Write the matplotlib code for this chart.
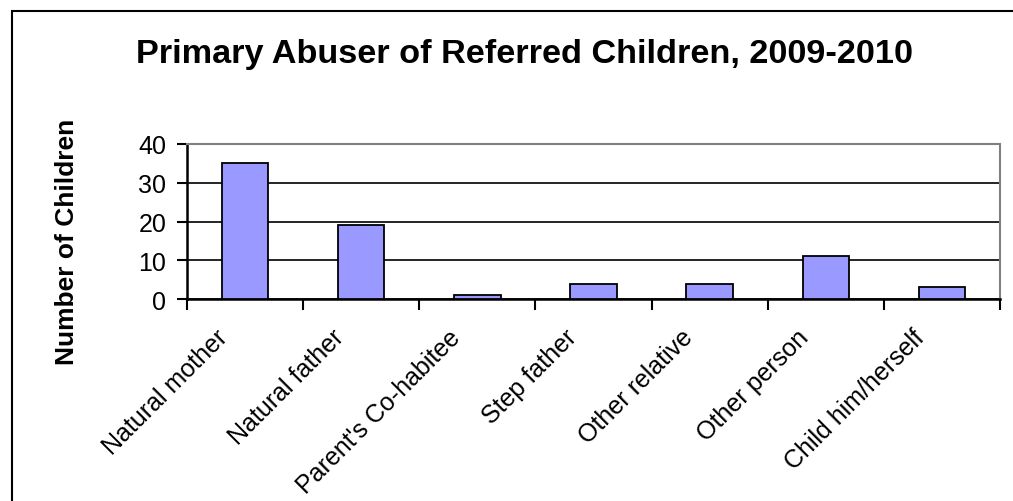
import matplotlib.pyplot as plt
import numpy as np

plt.rcParams['font.family'] = ['Liberation Sans', 'DejaVu Sans']

categories = ['Natural mother', 'Natural father', "Parent's Co-habitee",
              'Step father', 'Other relative', 'Other person', 'Child him/herself']
counts = [35, 19, 1, 4, 4, 11, 3]

fig = plt.figure(figsize=(10.13, 5.02), dpi=100)
ax = fig.add_axes([187 / 1013, 1 - 300 / 502, (1000 - 187) / 1013, 155 / 502])

x = np.arange(len(categories))
ax.bar(x, counts, width=0.4, color='#9999FF', edgecolor='black', linewidth=1.3, zorder=3)

ax.set_xlim(-0.5, len(categories) - 0.5)
ax.set_ylim(0, 40)
ax.set_yticks([0, 10, 20, 30, 40])
ax.yaxis.grid(True, color='black', linewidth=1.2, zorder=0)
ax.tick_params(axis='y', labelsize=18, direction='out', length=7, width=1.5, pad=8)

ax.set_xticks(np.arange(len(categories) + 1) - 0.5)
ax.set_xticklabels([])
ax.tick_params(axis='x', direction='out', length=8, width=1.5)
for i, lab in enumerate(categories):
    ax.text(i - 0.18, -8.8, lab, rotation=45, ha='right', va='center',
            rotation_mode='anchor', fontsize=18, clip_on=False)

for s in ['top', 'right']:
    ax.spines[s].set_color('#808080')
    ax.spines[s].set_linewidth(1.5)
for s in ['left', 'bottom']:
    ax.spines[s].set_color('black')
    ax.spines[s].set_linewidth(1.8)

fig.text(67 / 1013, 1 - 242 / 502, 'Number of Children', rotation=90,
         ha='center', va='center', fontsize=19, fontweight='bold')
fig.text(524 / 1013, 1 - 55 / 502, 'Primary Abuser of Referred Children, 2009-2010',
         ha='center', va='center', fontsize=24.7, fontweight='bold')

# outer chart border
fig.patches.append(plt.Rectangle((12 / 1013, -0.05), 1.0, 1 - 12 / 502 + 0.05,
                                 transform=fig.transFigure, fill=False,
                                 edgecolor='black', linewidth=1.5))

fig.savefig('out.png', dpi=100)
